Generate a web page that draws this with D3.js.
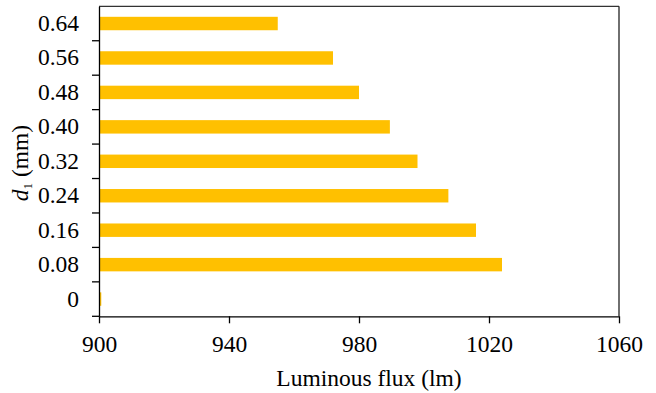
<!DOCTYPE html>
<html>
<head>
<meta charset="utf-8">
<script src="https://cdn.jsdelivr.net/npm/d3@7"></script>
<style>
  html, body { margin: 0; padding: 0; background: #fff; }
  svg { display: block; }
  text { font-family: "Liberation Serif", "Times New Roman", Times, serif; fill: #000; }
</style>
</head>
<body>
<svg id="chart" width="656" height="393"></svg>
<script>
// Bar thickness d1 (mm) and the resulting luminous flux (lm)
const thicknessLabels = ["0", "0.08", "0.16", "0.24", "0.32", "0.40", "0.48", "0.56", "0.64"];
const fluxValues = [900.7, 1024, 1016, 1007.5, 998, 989.5, 980, 972, 955];
const xTickValues = [900, 940, 980, 1020, 1060];

const width = 656, height = 393;
const margin = { top: 6.3, right: 37, bottom: 76.7, left: 99 };
const innerW = width - margin.left - margin.right;
const innerH = height - margin.top - margin.bottom;
const fontSize = 23.5;

const svg = d3.select("#chart");
const g = svg.append("g").attr("transform", `translate(${margin.left},${margin.top})`);

const x = d3.scaleLinear().domain([900, 1060]).range([0, innerW]);
// first category at the bottom
const y = d3.scaleBand().domain(thicknessLabels.slice().reverse()).range([0, innerH]).padding(0);
const barH = y.bandwidth() * 0.39;

// frame: top and right edges
g.append("line").attr("x1", 0).attr("x2", innerW).attr("y1", 0).attr("y2", 0)
  .attr("stroke", "#333").attr("stroke-width", 1.3);
g.append("line").attr("x1", innerW).attr("x2", innerW).attr("y1", 0).attr("y2", innerH)
  .attr("stroke", "#222").attr("stroke-width", 1.3);

// bars
g.selectAll("rect.bar")
  .data(thicknessLabels.map((c, i) => ({ c, v: fluxValues[i] })))
  .join("rect")
  .attr("class", "bar")
  .attr("x", x(900))
  .attr("y", d => y(d.c) + (y.bandwidth() - barH) / 2)
  .attr("width", d => x(d.v) - x(900))
  .attr("height", barH)
  .attr("fill", "#FFC000");

// x axis
const xAxis = g.append("g").attr("transform", `translate(0,${innerH})`)
  .call(d3.axisBottom(x).tickValues(xTickValues).tickFormat(d3.format("d")).tickSizeInner(7).tickSizeOuter(0).tickPadding(12));
xAxis.selectAll("path, line").attr("stroke", "#000").attr("stroke-width", 1.3);
xAxis.selectAll("text").attr("font-size", fontSize);

// y axis: labels at band centres, ticks at band boundaries
const yAxis = g.append("g")
  .call(d3.axisLeft(y).tickSize(0).tickPadding(20));
yAxis.select("path").attr("stroke", "#000").attr("stroke-width", 1.3);
yAxis.selectAll("text").attr("font-size", fontSize);

const boundaries = y.domain().map(c => y(c)).slice(1).concat([innerH]);
g.append("g").selectAll("line")
  .data(boundaries)
  .join("line")
  .attr("x1", -7).attr("x2", 0)
  .attr("y1", d => d).attr("y2", d => d)
  .attr("stroke", "#000").attr("stroke-width", 1.3);

// axis titles
svg.append("text")
  .attr("x", 369).attr("y", 386)
  .attr("text-anchor", "middle")
  .attr("font-size", fontSize)
  .text("Luminous flux (lm)");

const yt = svg.append("text")
  .attr("transform", "translate(28,163) rotate(-90)")
  .attr("text-anchor", "middle")
  .attr("font-size", fontSize);
yt.append("tspan").attr("font-style", "italic").text("d");
yt.append("tspan").attr("font-size", 13).attr("dy", 4).text("1");
yt.append("tspan").attr("dy", -4).text(" (mm)");
</script>
</body>
</html>
